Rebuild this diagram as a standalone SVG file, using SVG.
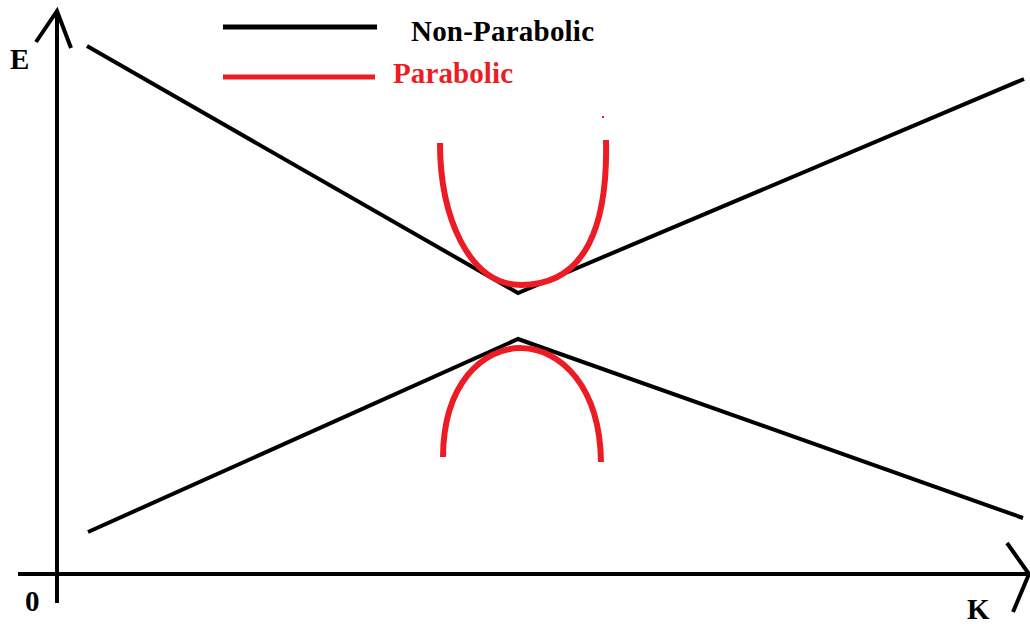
<svg xmlns="http://www.w3.org/2000/svg" width="1030" height="624" viewBox="0 0 1030 624">
<style>
.ax{stroke:#000;stroke-width:4;fill:none;stroke-linecap:butt}
.bl{stroke:#000;stroke-width:4;fill:none}
.rd{stroke:#ed1c24;stroke-width:6;fill:none}
.t{font-family:"Liberation Serif","Times New Roman",serif;font-weight:bold;font-size:29px}
</style>
<rect width="1030" height="624" fill="#fff"/>
<g id="axes">
<line class="ax" x1="57" y1="11" x2="57" y2="603"/>
<polyline class="ax" points="36,42 57,11 71,48"/>
<line class="ax" x1="18" y1="574" x2="1029" y2="574"/>
<polyline class="ax" points="1007,543 1029,574 1013,612"/>
<text class="t" x="10" y="69" fill="#000">E</text>
<text class="t" x="25" y="611" fill="#000">0</text>
<text class="t" x="967" y="619" fill="#000">K</text>
</g>
<g id="legend">
<line x1="223" y1="27" x2="377" y2="27" stroke="#000" stroke-width="5"/>
<text class="t" x="411" y="41" fill="#000" textLength="183">Non-Parabolic</text>
<line x1="223" y1="77" x2="375" y2="77" stroke="#ed1c24" stroke-width="5"/>
<text class="t" x="393" y="83" fill="#ed1c24" textLength="120">Parabolic</text>
</g>
<g id="connectors">
<polyline class="bl" points="87,46 518,293 1024,79"/>
<polyline class="bl" points="88,532 518,339 1023,518"/>
</g>
<g id="parabolic">
<path class="rd" d="M 440 143 C 440 215, 468 285, 521 285 C 586 285, 608 225, 606 140"/>
<path class="rd" d="M 443 457 C 444 311, 599 311, 601 462"/>
<rect x="602" y="116" width="2" height="2" fill="#ed1c24"/>
</g>
</svg>
